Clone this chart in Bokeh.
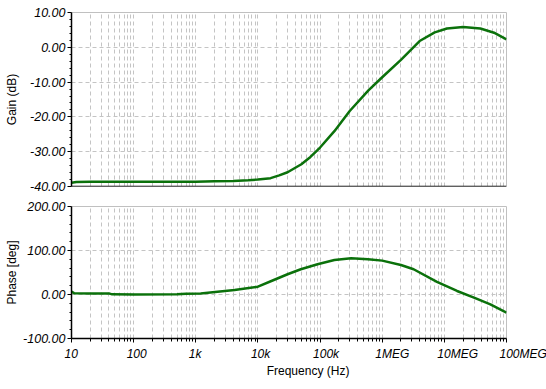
from bokeh.plotting import figure
from bokeh.layouts import column
from bokeh.models import (FixedTicker, PrintfTickFormatter, Range1d, Span,
                          CustomLabelingPolicy)
from bokeh.core.properties import value
from bokeh.embed import file_html
from bokeh.resources import INLINE

# ---- data ----
gain_freq = [10, 12, 20, 50, 100, 300, 1e3, 2e3, 4e3, 7e3, 1e4, 1.6e4, 2.2e4, 3e4,
             5e4, 7e4, 1e5, 1.7e5, 3e5, 6e5, 1e6, 2e6, 4e6, 7e6, 1.1e7, 2e7,
             3.8e7, 6.3e7, 1e8]
gain_db = [-38.9, -38.7, -38.6, -38.6, -38.6, -38.6, -38.6, -38.5, -38.4, -38.2,
           -38.0, -37.6, -36.8, -35.9, -33.6, -31.5, -28.8, -24.1, -18.3, -12.4,
           -8.6, -3.6, 1.8, 4.3, 5.4, 5.85, 5.4, 4.2, 2.3]

phase_freq = [10, 11, 20, 40, 45, 100, 500, 700, 1.2e3, 4.2e3, 1e4, 1.8e4, 3e4,
              4.9e4, 9.1e4, 1.7e5, 3.16e5, 5.9e5, 1e6, 2e6, 3.2e6, 7.6e6, 1.6e7,
              3e7, 5.5e7, 1e8]
phase_deg = [6.4, 3.0, 2.5, 2.5, 0.3, 0.0, 0.5, 1.5, 2.5, 10.0, 17.8, 33.0, 46.0,
             57.4, 68.8, 78.6, 82.5, 80.2, 77.0, 67.0, 57.4, 28.6, 8.0, -7.3,
             -22.6, -41.5]

x_ticks = [10, 100, 1e3, 1e4, 1e5, 1e6, 1e7, 1e8]
x_tick_labels = ["10", "100", "1k", "10k", "100k", "1MEG", "10MEG", "100MEG"]
gain_ticks = [-40, -30, -20, -10, 0, 10]
phase_ticks = [-100, 0, 100, 200]

minor_x = [d * m for d in x_ticks[:-1] for m in range(2, 10)]

LINE = "#0b710b"
GRID = "#c4c4c4"
FONT = "Liberation Sans"
LBL = "12.5px"

FW = 435            # frame width of the plots
PX_DEC = FW / 7.0   # pixels per decade
LEFT = 71


def style(p, yticks, minor_y):
    p.outline_line_color = "#c0c0c0"
    p.outline_line_width = 1
    p.background_fill_color = "white"
    p.border_fill_color = "white"
    p.xgrid.ticker = FixedTicker(ticks=x_ticks, minor_ticks=minor_x)
    p.xgrid.grid_line_color = GRID
    p.xgrid.grid_line_dash = "4 3"
    p.xgrid.minor_grid_line_color = GRID
    p.xgrid.minor_grid_line_dash = "4 3"
    p.ygrid.ticker = FixedTicker(ticks=yticks)
    p.ygrid.grid_line_color = GRID
    p.ygrid.grid_line_dash = "4 3"
    ax = p.yaxis[0]
    ax.ticker = FixedTicker(ticks=yticks, minor_ticks=minor_y)
    ax.formatter = PrintfTickFormatter(format="%.2f")
    ax.axis_line_color = "black"
    ax.axis_line_width = 1.5
    ax.major_tick_line_color = "black"
    ax.minor_tick_line_color = "black"
    ax.major_tick_out = 4
    ax.major_tick_in = 0
    ax.minor_tick_out = 2
    ax.minor_tick_in = 0
    ax.major_label_text_font = FONT
    ax.major_label_text_font_style = "italic"
    ax.major_label_text_font_size = LBL
    ax.major_label_text_color = "black"
    ax.major_label_standoff = 2
    ax.axis_label_text_font = FONT
    ax.axis_label_text_font_style = "normal"
    ax.axis_label_text_font_size = "12px"
    ax.axis_label_text_color = "black"


# ---- top: gain ----
p1 = figure(x_axis_type="log", x_axis_location=None,
            x_range=Range1d(10, 1e8), y_range=Range1d(-40, 10),
            frame_width=FW, frame_height=174, min_border_left=LEFT,
            min_border_right=40, min_border_top=12, min_border_bottom=10,
            output_backend="svg", toolbar_location=None)
style(p1, gain_ticks, [v for v in range(-38, 10, 2) if v % 10])
p1.yaxis.axis_label = "Gain (dB)"
p1.yaxis.axis_label_standoff = 8
p1.add_layout(Span(location=-40, dimension="width", line_color="black",
                   line_width=1.5))
p1.line(gain_freq, gain_db, line_color=LINE, line_width=2.5)

# ---- bottom: phase ----
p2 = figure(x_axis_type="log", x_range=p1.x_range, y_range=Range1d(-100, 200),
            frame_width=FW, frame_height=132, min_border_left=LEFT,
            min_border_right=40, min_border_top=10, min_border_bottom=5,
            output_backend="svg", toolbar_location=None)
style(p2, phase_ticks, [v for v in range(-80, 200, 20) if v % 100])
p2.yaxis.axis_label = "Phase [deg]"
p2.yaxis.axis_label_standoff = 1
xa = p2.xaxis[0]
xa.ticker = FixedTicker(ticks=x_ticks, minor_ticks=minor_x)
xa.axis_line_color = "black"
xa.axis_line_width = 1.5
xa.major_tick_line_color = "black"
xa.minor_tick_line_color = "black"
xa.major_tick_out = 4
xa.major_tick_in = 0
xa.minor_tick_out = 3
xa.minor_tick_in = 0
xa.major_label_standoff = 0
xa.major_label_text_font_size = "1px"
xa.major_label_policy = CustomLabelingPolicy(
    code="for (const i of Array.from(indices)) indices.unset(i)")
p2.line(phase_freq, phase_deg, line_color=LINE, line_width=2.5)

# ---- strip below: frequency tick labels and axis title on the same log scale,
#      shifted 7 px left as in the reference (labels start just left of each tick) ----
shift_dec = 7 / PX_DEC
p3 = figure(x_axis_type="log",
            x_range=Range1d(10 ** (1 + shift_dec), 10 ** (8 + shift_dec)),
            y_range=Range1d(0, 37),
            frame_width=FW, frame_height=37,
            min_border_left=LEFT, min_border_right=40,
            min_border_top=0, min_border_bottom=0,
            x_axis_location=None, y_axis_location=None,
            output_backend="svg", toolbar_location=None)
p3.outline_line_color = None
p3.xgrid.visible = False
p3.ygrid.visible = False
p3.text(x=x_ticks, y=[31] * len(x_ticks), text=x_tick_labels,
        text_align="left", text_baseline="middle", text_font=value(FONT),
        text_font_style="italic", text_font_size="12px", text_color="black",
        level="overlay")
p3.text(x=[8.3e4], y=[14], text=["Frequency (Hz)"], text_align="center",
        text_baseline="middle", text_font=value(FONT), text_font_size="12px",
        text_color="black", level="overlay")

layout = column(p1, p2, p3, spacing=0)
open("out.html", "w").write(file_html(layout, INLINE))
